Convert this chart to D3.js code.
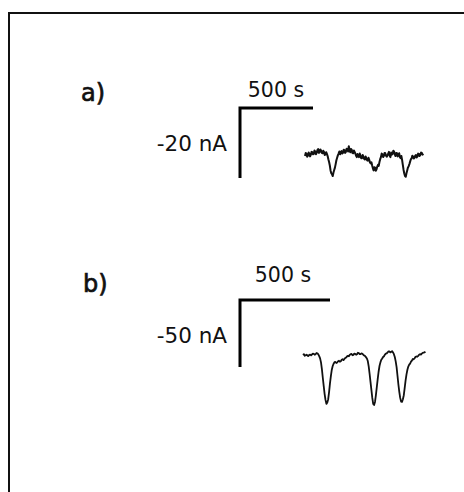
<!DOCTYPE html>
<html>
<head>
<meta charset="utf-8">
<script src="https://cdn.jsdelivr.net/npm/d3@7"></script>
<style>
  html, body { margin: 0; padding: 0; background: #fff; }
  svg { display: block; }
  text { font-family: "DejaVu Sans", sans-serif; fill: #111; }
</style>
</head>
<body>
<script>
// Amperometric traces: current (nA) sampled every 5 s
const stepSeconds = 5;

const currentA = [
  -0.3, 0.6, 0.4, -0.5, -0.2, 0.7, 0.3, -0.4, 0.1, 0.9,
  0.8, 0.2, 0.3, 1.3, 1.0, 0.2, 0.6, 1.4, 1.7, 0.6,
  0.9, 1.6, 1.3, 0.6, 0.5, 1.2, 0.9, 0.0, 0.2, 0.8,
  0.3, -0.3, -1.2, -2.0, -3.0, -4.4, -5.2, -5.5, -6.0, -5.0,
  -4.3, -3.6, -2.6, -1.5, -0.8, -0.1, 0.4, 1.0, 0.2, 0.8,
  1.1, 0.4, 0.6, 1.5, 1.4, 0.6, 0.9, 1.8, 1.6, 1.0,
  2.5, 1.6, 0.8, 1.7, 1.5, 0.6, 0.5, 1.3, 0.9, 0.4,
  -0.2, -0.6, 0.3, 0.0, -0.6, 0.4, -0.2, -0.9, -0.9, 0.0,
  -0.5, -1.1, -1.3, -0.4, -0.9, -1.5, -1.6, -0.8, -1.4, -2.1,
  -2.4, -2.1, -3.0, -3.8, -4.4, -3.5, -3.6, -4.5, -4.1, -3.3,
  -2.8, -3.1, -2.0, -1.2, -0.6, 0.4, 0.2, -0.6, -0.3, 0.6,
  0.5, -0.2, -0.5, -0.1, 0.4, 0.9, -0.2, -0.6, 0.7, 0.1,
  0.3, 1.2, 1.0, 0.2, -0.3, 0.6, 0.5, -0.4, 0.1, 0.5,
  -0.6, -0.9, -0.3, -1.4, -2.8, -4.2, -5.3, -6.0, -6.2, -5.2,
  -4.4, -3.6, -3.2, -2.6, -1.9, -1.2, -1.0, -0.2, -0.4, -1.0,
  -0.8, -0.2, 0.0, -0.7, -0.4, 0.4, 0.3, -0.3, 0.0, 0.7,
  0.6, 0.1, 0.4
];

const currentB = [
  0.0, 0.6, -0.6, -0.2, 0.2, -0.5, -0.8, 0.1, 0.3, -0.3,
  0.4, 1.0, 0.9, 0.2, 0.6, 1.5, 1.3, 0.5, -0.8, -2.5,
  -5.5, -10.5, -17, -23, -29, -33.5, -36.5, -35.5, -33, -27.5,
  -21, -15.5, -11, -8.2, -6.5, -5.4, -5.2, -6.0, -5.6, -4.7,
  -4.3, -5.0, -4.6, -3.6, -3.2, -3.8, -3.0, -2.2, -1.8, -1.0,
  -0.6, -0.9, 0.2, 0.6, 0.8, -0.2, 0.1, 1.0, 0.9, 0.2,
  0.6, 1.7, 1.4, 0.6, 0.7, 1.2, 0.9, 0.2, -0.4, -0.8,
  -1.6, -2.6, -4.5, -8.5, -14, -20, -26, -32, -36.5, -37.3,
  -35, -30, -24, -18, -12.5, -8.2, -5.5, -3.6, -2.6, -1.5,
  -0.9, 0.3, 1.0, 1.2, 2.0, 2.6, 2.6, 2.0, 2.3, 2.9,
  1.9, 0.6, -1.5, -4.8, -9, -15.5, -22, -27.5, -32, -34.8,
  -35, -33, -30, -24.5, -19, -14.5, -11, -8.6, -7.2, -6.4,
  -5.0, -4.2, -3.0, -3.2, -2.4, -1.4, -1.1, -1.3, -0.6, 0.2,
  0.6, 0.3, 1.0, 1.6, 1.8, 1.9, 2.6
];

// Scale bars: time length (s) and current length (nA)
const panelLabels = ["a)", "b)"];
const timeBars = [500, 500];
const currentBars = [-20, -50];
const timeBarLabels = ["500 s", "500 s"];
const currentBarLabels = ["-20 nA", "-50 nA"];

const width = 464, height = 492;

const svg = d3.select("body").append("svg")
  .attr("width", width)
  .attr("height", height);

// outer frame (runs past the right and bottom edges)
svg.append("rect")
  .attr("x", 9).attr("y", 13)
  .attr("width", 480).attr("height", 500)
  .attr("fill", "none")
  .attr("stroke", "#111")
  .attr("stroke-width", 2);

const panels = [
  {
    data: currentA,
    label: panelLabels[0], tBar: timeBars[0], iBar: currentBars[0],
    tLabel: timeBarLabels[0], iLabel: currentBarLabels[0],
    xPxPer500: 73, yPxPerBar: 70,
    labelPos: [81, 101], barOrigin: [240, 108], traceOrigin: [305, 155],
    tLabelPos: [276, 97], iLabelPos: [227, 151], traceWidth: 2
  },
  {
    data: currentB,
    label: panelLabels[1], tBar: timeBars[1], iBar: currentBars[1],
    tLabel: timeBarLabels[1], iLabel: currentBarLabels[1],
    xPxPer500: 90, yPxPerBar: 67,
    labelPos: [83, 292], barOrigin: [240, 300], traceOrigin: [303, 355],
    tLabelPos: [283, 282], iLabelPos: [227, 343], traceWidth: 1.8
  }
];

panels.forEach(p => {
  const x = d3.scaleLinear().domain([0, p.tBar]).range([0, p.xPxPer500]);
  const y = d3.scaleLinear().domain([0, p.iBar]).range([0, p.yPxPerBar]);

  svg.append("text")
    .attr("x", p.labelPos[0]).attr("y", p.labelPos[1])
    .attr("font-size", 24)
    .attr("stroke", "#111").attr("stroke-width", 0.7)
    .text(p.label);

  // L-shaped scale bar
  const bar = svg.append("g")
    .attr("transform", `translate(${p.barOrigin[0]},${p.barOrigin[1]})`);
  bar.append("path")
    .attr("d", `M${x(p.tBar)},0 H${x(0)} V${y(p.iBar)}`)
    .attr("fill", "none")
    .attr("stroke", "#000")
    .attr("stroke-width", 3)
    .attr("stroke-linejoin", "miter");

  svg.append("text")
    .attr("x", p.tLabelPos[0]).attr("y", p.tLabelPos[1])
    .attr("text-anchor", "middle")
    .attr("font-size", 20.5)
    .text(p.tLabel);

  svg.append("text")
    .attr("x", p.iLabelPos[0]).attr("y", p.iLabelPos[1])
    .attr("text-anchor", "end")
    .attr("font-size", 21.5)
    .text(p.iLabel);

  // current trace
  const line = d3.line()
    .x((d, i) => x(i * stepSeconds))
    .y(d => y(d));

  svg.append("g")
    .attr("transform", `translate(${p.traceOrigin[0]},${p.traceOrigin[1]})`)
    .append("path")
    .datum(p.data)
    .attr("d", line)
    .attr("fill", "none")
    .attr("stroke", "#111")
    .attr("stroke-width", p.traceWidth)
    .attr("stroke-linejoin", "round");
});
</script>
</body>
</html>
